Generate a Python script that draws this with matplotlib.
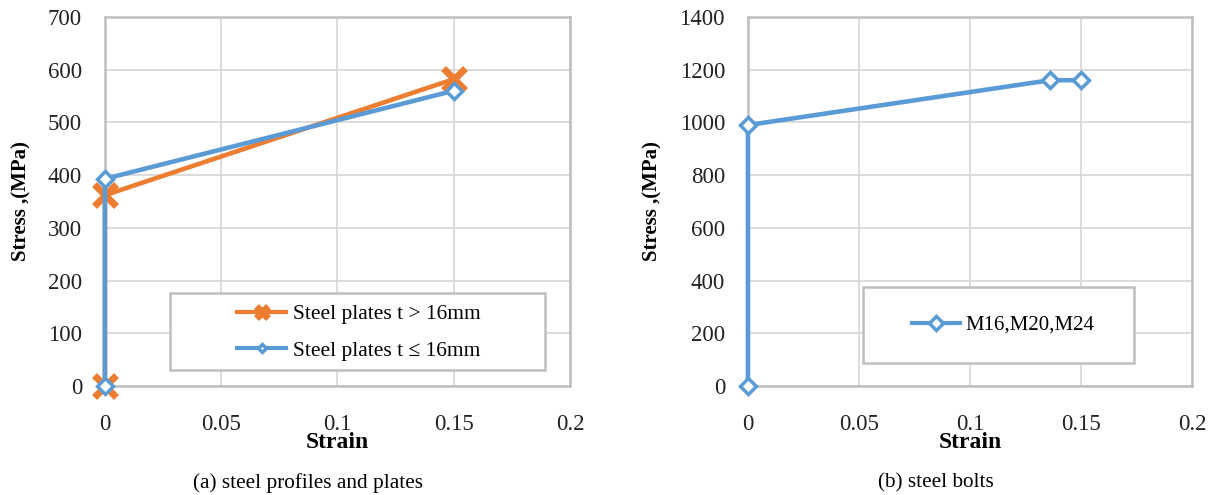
import matplotlib
matplotlib.use("Agg")
import matplotlib.pyplot as plt
from matplotlib.patches import Rectangle

# data
strain_a = [0, 0, 0.15]
stress_thick = [0, 362, 582]      # t > 16mm
stress_thin = [0, 393, 560]       # t <= 16mm
strain_b = [0, 0, 0.136, 0.15]
stress_bolts = [0, 990, 1160, 1160]

xticks = [0, 0.05, 0.1, 0.15, 0.2]
xticklabels = ["0", "0.05", "0.1", "0.15", "0.2"]

orange = "#ED7D31"
blue = "#5B9BD5"
grey = "#BFBFBF"
gridc = "#D9D9D9"

plt.rcParams["font.family"] = ["Liberation Serif", "DejaVu Serif"]

fig = plt.figure(figsize=(12.16, 4.95), dpi=100)
ax1 = fig.add_axes([0.0863, 0.2202, 0.3824, 0.7455])
ax2 = fig.add_axes([0.6151, 0.2202, 0.3651, 0.7455])


def style(ax, ymax, ystep):
    ax.set_xlim(0, 0.2)
    ax.set_ylim(0, ymax)
    ax.set_xticks(xticks)
    ax.set_xticklabels(xticklabels)
    ax.set_yticks(range(0, ymax + 1, ystep))
    ax.grid(True, color=gridc, lw=1.3)
    ax.set_axisbelow(True)
    for s in ax.spines.values():
        s.set_color(grey)
        s.set_linewidth(1.8)
    ax.tick_params(length=0, labelsize=16.5, colors="#222222")
    ax.tick_params(axis="x", pad=20)
    ax.tick_params(axis="y", pad=16.5)
    ax.set_xlabel("Strain", fontsize=17, fontweight="bold", labelpad=-2)
    ax.set_ylabel("Stress ,(MPa)", fontsize=15, fontweight="bold", labelpad=12)


style(ax1, 700, 100)
style(ax2, 1400, 200)

ax1.plot(strain_a, stress_thick, color=orange, lw=3.3, marker="x", ms=16, mew=5,
         label="Steel plates t > 16mm", clip_on=False, zorder=3)
ax1.plot(strain_a, stress_thin, color=blue, lw=3.3, marker="D", ms=8, mew=2.5,
         mfc="white", label="Steel plates t \u2264 16mm", clip_on=False, zorder=4)

ax2.plot(strain_b, stress_bolts, color=blue, lw=3.3, marker="D", ms=8, mew=2.5,
         mfc="white", label="M16,M20,M24", clip_on=False, zorder=4)

# legend boxes
ax1.add_patch(Rectangle((0.14, 0.043), 0.806, 0.209, transform=ax1.transAxes,
                        facecolor="white", edgecolor=grey, lw=1.8, zorder=5))
leg1 = ax1.legend(loc="center", bbox_to_anchor=(0.546, 0.145), frameon=False,
                  fontsize=15.5, handlelength=2.3, handletextpad=0.3,
                  labelspacing=0.75)
leg1.set_zorder(6)
for h in leg1.legend_handles:
    h.set_markersize(h.get_markersize() * 0.5)
    h.set_linewidth(3)

ax2.add_patch(Rectangle((0.259, 0.062), 0.61, 0.206, transform=ax2.transAxes,
                        facecolor="white", edgecolor=grey, lw=1.8, zorder=5))
leg2 = ax2.legend(loc="center", bbox_to_anchor=(0.575, 0.165), frameon=False,
                  fontsize=15, handlelength=2.3, handletextpad=0.3)
leg2.set_zorder(6)
for h in leg2.legend_handles:
    h.set_markersize(h.get_markersize() * 0.85)
    h.set_linewidth(3)

fig.text(0.253, 0.024, "(a) steel profiles and plates", ha="center", va="center",
         fontsize=15.3)
fig.text(0.77, 0.024, "(b) steel bolts", ha="center", va="center", fontsize=15.3)

fig.savefig("out.png", dpi=100)
